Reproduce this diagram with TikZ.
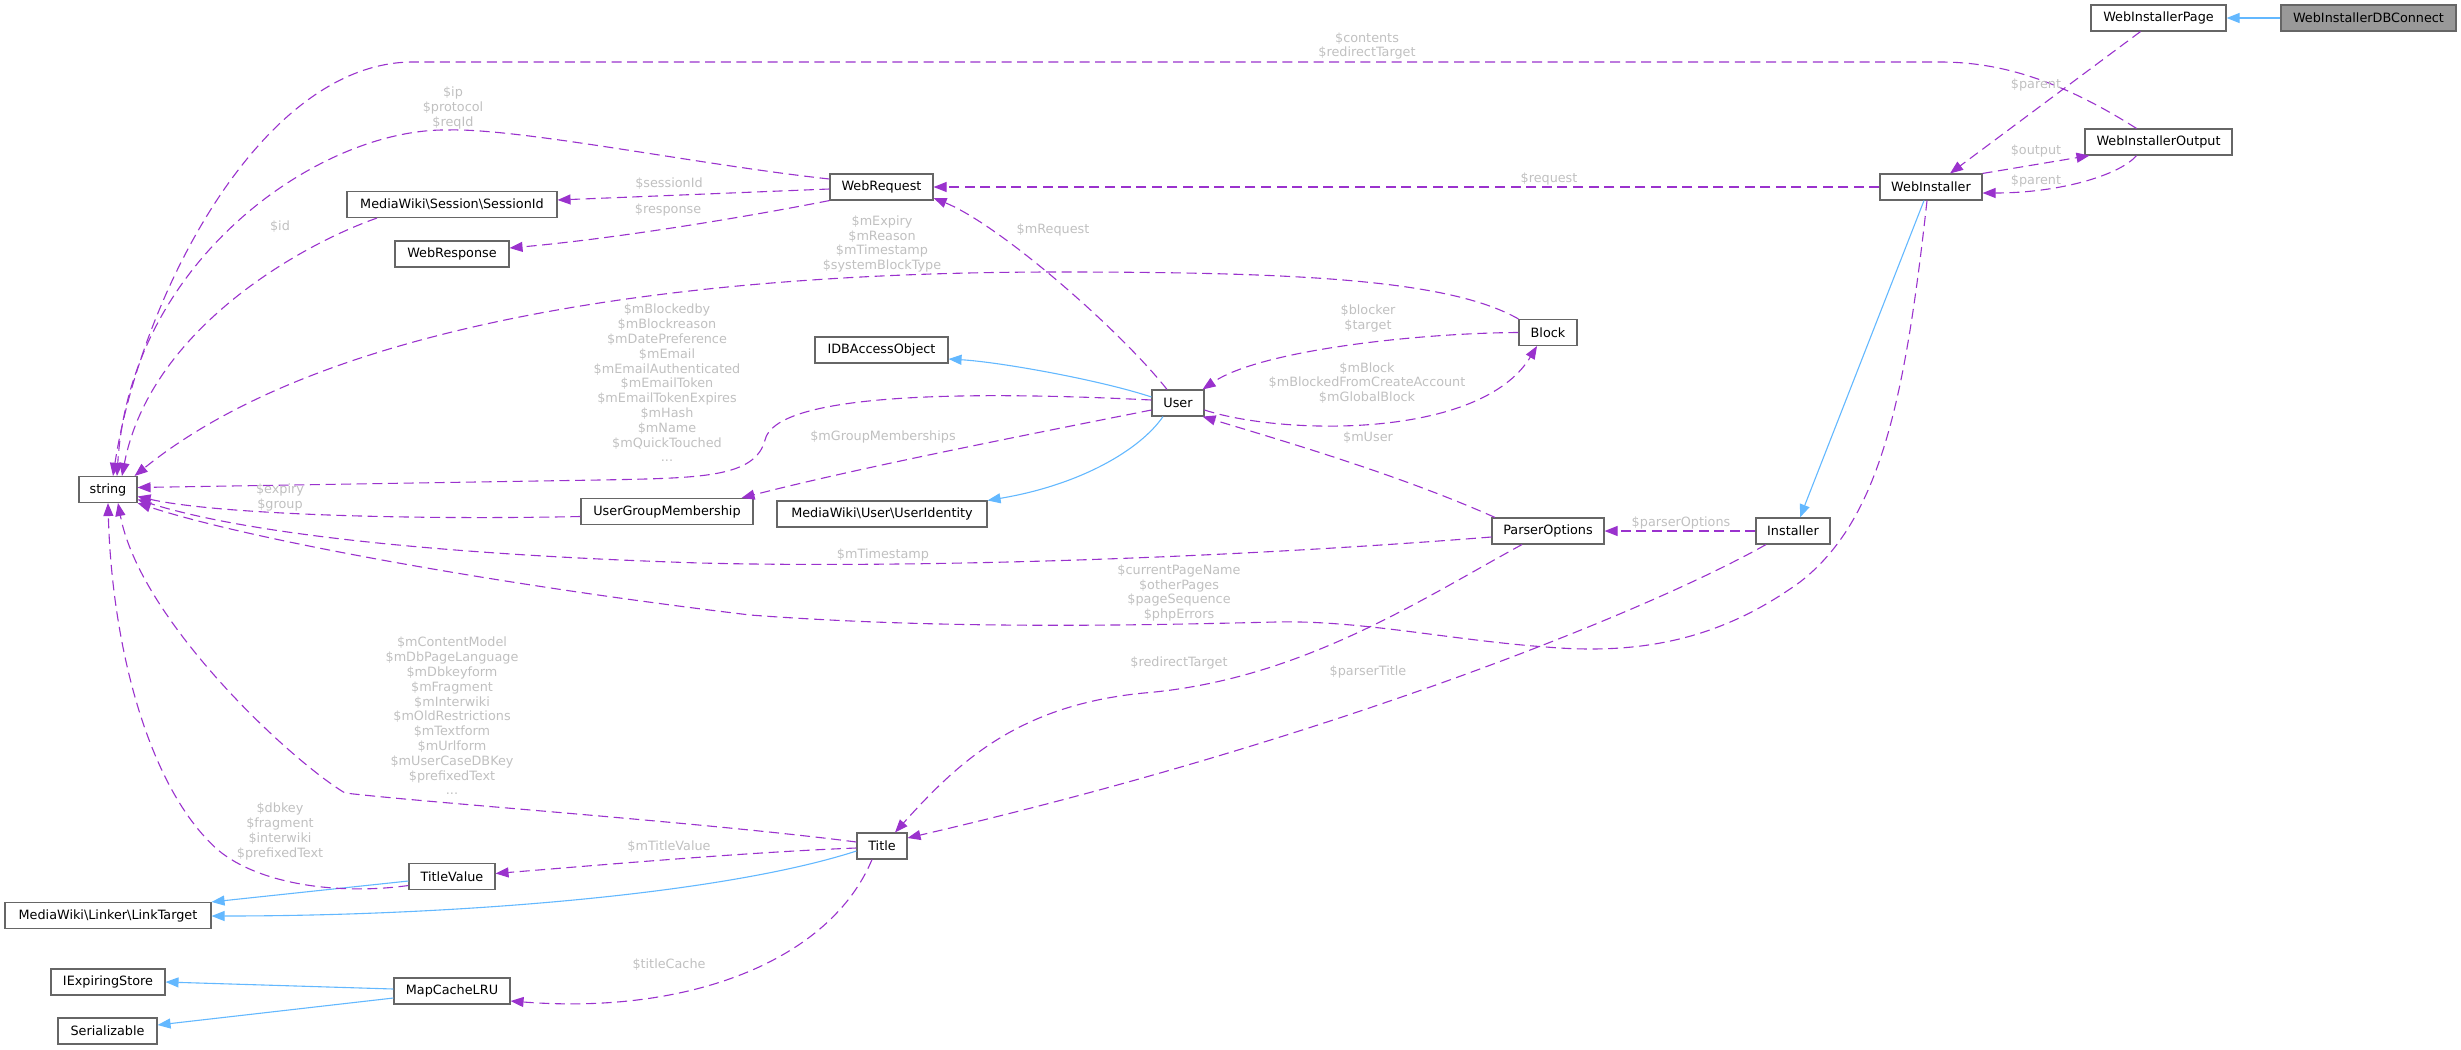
\documentclass[tikz,border=0pt]{standalone}
\usepackage{fontspec}
\setmainfont{DejaVu Sans}
\usetikzlibrary{arrows.meta}
\definecolor{edgep}{HTML}{9A32CD}
\definecolor{edgeb}{HTML}{63B8FF}
\definecolor{nodeb}{HTML}{666666}
\definecolor{lblc}{HTML}{C0C0C0}
\definecolor{mainf}{HTML}{999999}
\begin{document}
\begin{tikzpicture}[x=0.5pt,y=-0.5pt,
  cls/.style={draw=nodeb, line width=0.55pt, fill=white, minimum height=13pt, inner sep=0pt, font=\fontsize{6.4}{7.4}\selectfont, text=black},
  usage/.style={draw=edgep, line width=0.55pt, dash pattern=on 5pt off 2.8pt, -{Triangle[length=6.5pt,width=5pt]}},
  inherit/.style={draw=edgeb, line width=0.55pt, -{Triangle[length=6.5pt,width=5pt]}},
  lbl/.style={text=lblc, font=\fontsize{6.4}{7.4}\selectfont, align=center, inner sep=0pt}
]
\useasboundingbox (0,0) rectangle (2461,1049);

% nodes
\node[cls, fill=mainf, minimum width=87.5pt] (dbc) at (2368.5,18) {WebInstallerDBConnect};
\node[cls, minimum width=67.5pt] (wip) at (2158.5,18) {WebInstallerPage};
\node[cls, minimum width=73.5pt] (wio) at (2158.5,142) {WebInstallerOutput};
\node[cls, minimum width=51pt] (wi) at (1931,187) {WebInstaller};
\node[cls, minimum width=37pt] (inst) at (1793,531) {Installer};
\node[cls, minimum width=56pt] (po) at (1548,531) {ParserOptions};
\node[cls, minimum width=29pt] (block) at (1548,332.5) {Block};
\node[cls, minimum width=26pt] (user) at (1178,403) {User};
\node[cls, minimum width=66.5pt] (idb) at (881.5,350) {IDBAccessObject};
\node[cls, minimum width=105pt] (uid) at (882,514) {MediaWiki\textbackslash User\textbackslash UserIdentity};
\node[cls, minimum width=86pt] (ugm) at (667,511.5) {UserGroupMembership};
\node[cls, minimum width=29pt] (str) at (108,489.5) {string};
\node[cls, minimum width=51.5pt] (wreq) at (881.5,187) {WebRequest};
\node[cls, minimum width=105pt] (sid) at (452,204.5) {MediaWiki\textbackslash Session\textbackslash SessionId};
\node[cls, minimum width=57pt] (wresp) at (452,254) {WebResponse};
\node[cls, minimum width=25pt] (title) at (882,846) {Title};
\node[cls, minimum width=43pt] (tv) at (452,876.5) {TitleValue};
\node[cls, minimum width=103pt] (lt) at (108,915.5) {MediaWiki\textbackslash Linker\textbackslash LinkTarget};
\node[cls, minimum width=58pt] (mc) at (452,991) {MapCacheLRU};
\node[cls, minimum width=57pt] (ies) at (108,982) {IExpiringStore};
\node[cls, minimum width=49.5pt] (ser) at (107.5,1031) {Serializable};

% inheritance
\draw[inherit] (dbc.west) -- (wip.east);
\draw[inherit] ([shift={(-7,0)}]wi.south) -- ([shift={(7,0)}]inst.north);
\draw[inherit] ([shift={(0,-6)}]user.west) .. controls (1100,380) and (1000,362) .. ([shift={(0,9)}]idb.east);
\draw[inherit] ([shift={(-15,0)}]user.south) .. controls (1140,450) and (1080,485) .. (uid.north east);
\draw[inherit] ([shift={(0,5)}]title.west) .. controls (720,895) and (450,916) .. ([shift={(0,0.5)}]lt.east);
\draw[inherit] ([shift={(0,4.5)}]tv.west) -- (lt.north east);
\draw[inherit] ([shift={(0,-2)}]mc.west) -- (ies.east);
\draw[inherit] ([shift={(0,7)}]mc.west) -- ([shift={(0,-6)}]ser.east);

% usage
\draw[usage] ([shift={(-18,0)}]wip.south) -- ([shift={(19,0)}]wi.north);
\draw[usage] (wi.north east) -- ([shift={(5,0)}]wio.south west);
\draw[usage] ([shift={(-22,0)}]wio.south) .. controls (2120,175) and (2060,193) .. ([shift={(0,6)}]wi.east);
\draw[usage] ([shift={(-22,0)}]wio.north) .. controls (2060,80) and (2000,62) .. (1940,62) -- (413,62) .. controls (260,62) and (140,300) .. ([shift={(5,0)}]str.north);
\draw[usage] ([shift={(0,-8)}]wreq.west) .. controls (700,165) and (520,128) .. (448,130) .. controls (320,128) and (130,260) .. ([shift={(9,0)}]str.north);
\draw[usage] ([shift={(0,2)}]wreq.west) -- ([shift={(0,-4.5)}]sid.east);
\draw[usage] (wreq.south west) .. controls (720,222) and (600,240) .. ([shift={(0,-6)}]wresp.east);
\draw[usage] ([shift={(-75,0)}]sid.south) .. controls (300,245) and (150,330) .. ([shift={(14,0)}]str.north);
\draw[usage] (wi.west) -- (wreq.east);
\draw[usage] ([shift={(-11,0)}]user.north) .. controls (1120,330) and (1000,225) .. ([shift={(0,11)}]wreq.east);
\draw[usage] (block.north west) .. controls (1450,280) and (1300,272) .. (1058,272) .. controls (700,272) and (330,318) .. ([shift={(-3,0)}]str.north east);
\draw[usage] (block.west) .. controls (1420,333) and (1260,350) .. ([shift={(-2,0)}]user.north east);
\draw[usage] ([shift={(0,7)}]user.east) .. controls (1280,435) and (1480,440) .. ([shift={(-11,0)}]block.south);
\draw[usage] ([shift={(0,-3)}]user.west) .. controls (950,390) and (775,395) .. (765,440) .. controls (755,478) and (700,478) .. (600,480) -- ([shift={(0,-2)}]str.east);
\draw[usage] ([shift={(0,7)}]user.west) .. controls (1000,440) and (850,470) .. ([shift={(-12,0)}]ugm.north east);
\draw[usage] ([shift={(0,5)}]ugm.west) .. controls (420,520) and (220,515) .. ([shift={(0,7)}]str.east);
\draw[usage] ([shift={(-53,0)}]po.north) .. controls (1400,475) and (1280,440) .. ([shift={(-2,0)}]user.south east);
\draw[usage] ([shift={(0,6)}]po.west) .. controls (1200,560) and (900,568) .. (700,563) .. controls (450,555) and (250,535) .. ([shift={(0,10)}]str.east);
\draw[usage] ([shift={(-4,0)}]wi.south) .. controls (1905,400) and (1880,520) .. (1800,582) .. controls (1720,640) and (1640,655) .. (1546,647) .. controls (1450,640) and (1360,620) .. (1276,622) .. controls (1150,625) and (950,630) .. (750,615) .. controls (500,585) and (250,540) .. (str.south east);
\draw[usage] (inst.west) -- (po.east);
\draw[usage] ([shift={(-26,0)}]po.south) .. controls (1420,600) and (1300,680) .. (1144,693) .. controls (1020,705) and (960,760) .. ([shift={(13,0)}]title.north);
\draw[usage] ([shift={(-27,0)}]inst.south) .. controls (1650,610) and (1330,740) .. ([shift={(0,-8)}]title.east);
\draw[usage] ([shift={(0,-4)}]title.west) .. controls (700,822) and (430,803) .. (345,793) .. controls (290,760) and (140,620) .. ([shift={(10,0)}]str.south);
\draw[usage] ([shift={(0,9)}]tv.west) .. controls (340,895) and (260,885) .. (218,850) .. controls (150,790) and (112,650) .. (str.south);
\draw[usage] ([shift={(0,2)}]title.west) .. controls (750,852) and (600,865) .. ([shift={(0,-3)}]tv.east);
\draw[usage] ([shift={(-10,0)}]title.south) .. controls (830,960) and (690,1015) .. ([shift={(0,10)}]mc.east);

% labels
\node[lbl] (l1) at (2036,85) {\$parent};
\node[lbl] (l2) at (2036,151) {\$output};
\node[lbl] (l3) at (2036,181) {\$parent};
\node[lbl] (l4) at (1367,46) {\$contents\\\$redirectTarget};
\node[lbl] (l5) at (453,108) {\$ip\\\$protocol\\\$reqId};
\node[lbl] (l6) at (669,184) {\$sessionId};
\node[lbl] (l7) at (668,210) {\$response};
\node[lbl] (l8) at (280,227) {\$id};
\node[lbl] (l9) at (1549,179) {\$request};
\node[lbl] (l10) at (1053,230) {\$mRequest};
\node[lbl] (l11) at (882,244) {\$mExpiry\\\$mReason\\\$mTimestamp\\\$systemBlockType};
\node[lbl] (l12) at (1368,318.5) {\$blocker\\\$target};
\node[lbl] (l13) at (1367,383) {\$mBlock\\\$mBlockedFromCreateAccount\\\$mGlobalBlock};
\node[lbl] (l14) at (667,383) {\$mBlockedby\\\$mBlockreason\\\$mDatePreference\\\$mEmail\\\$mEmailAuthenticated\\\$mEmailToken\\\$mEmailTokenExpires\\\$mHash\\\$mName\\\$mQuickTouched\\...};
\node[lbl] (l15) at (883,437) {\$mGroupMemberships};
\node[lbl] (l16) at (280,497.5) {\$expiry\\\$group};
\node[lbl] (l17) at (1368,438) {\$mUser};
\node[lbl] (l18) at (1681,523) {\$parserOptions};
\node[lbl] (l19) at (883,555) {\$mTimestamp};
\node[lbl] (l20) at (1179,593) {\$currentPageName\\\$otherPages\\\$pageSequence\\\$phpErrors};
\node[lbl] (l21) at (1179,663) {\$redirectTarget};
\node[lbl] (l22) at (1368,672) {\$parserTitle};
\node[lbl] (l23) at (452,716) {\$mContentModel\\\$mDbPageLanguage\\\$mDbkeyform\\\$mFragment\\\$mInterwiki\\\$mOldRestrictions\\\$mTextform\\\$mUrlform\\\$mUserCaseDBKey\\\$prefixedText\\...};
\node[lbl] (l24) at (280,831.5) {\$dbkey\\\$fragment\\\$interwiki\\\$prefixedText};
\node[lbl] (l25) at (669,847) {\$mTitleValue};
\node[lbl] (l26) at (669,965) {\$titleCache};
\end{tikzpicture}
\end{document}
